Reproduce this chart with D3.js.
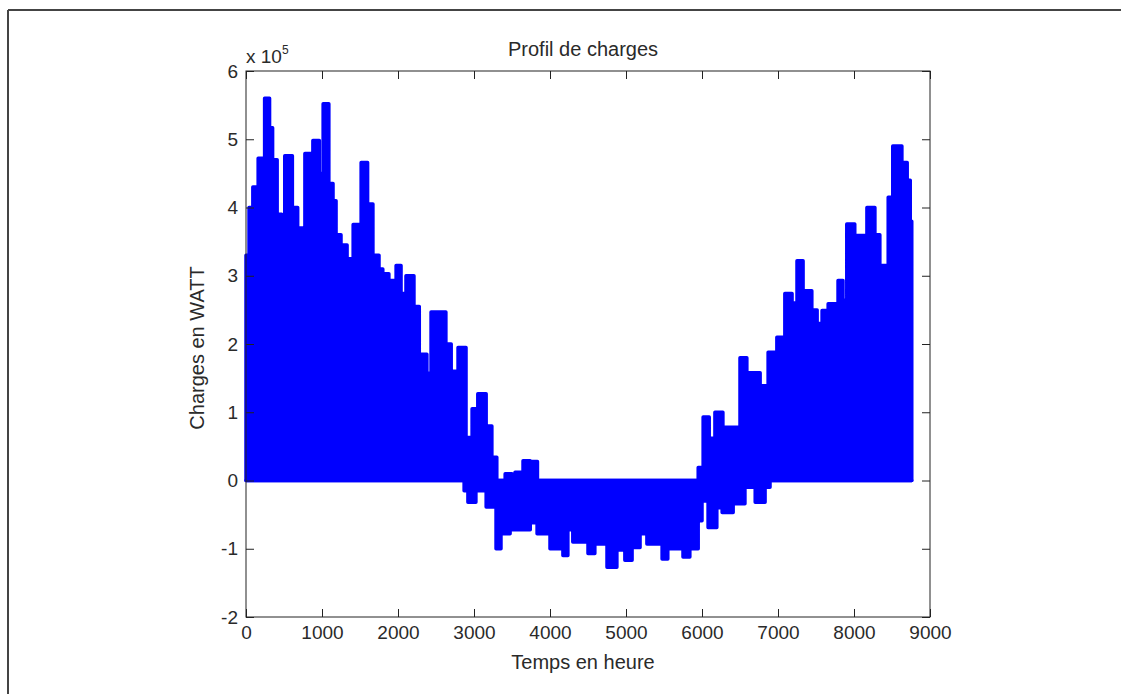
<!DOCTYPE html>
<html>
<head>
<meta charset="utf-8">
<script src="https://cdn.jsdelivr.net/npm/d3@7"></script>
<style>
  body { margin: 0; background: #fff; }
  text { font-family: "Liberation Sans", Arial, sans-serif; fill: #2a2a2a; }
</style>
</head>
<body>
<div id="chart"></div>
<script>
// envelope of the hourly load profile (units of 1e5 W), read off the figure as steps
// each value holds from its hour up to the next hour in the list
const upperHours = [0, 40, 90, 160, 245, 310, 350, 410, 470, 510, 610, 680, 750, 775, 855, 880, 965, 1015, 1090, 1145, 1185, 1250, 1330, 1410, 1515, 1600, 1670, 1750, 1800, 1880, 1975, 2040, 2105, 2210, 2280, 2380, 2435, 2630, 2700, 2790, 2895, 2975, 3050, 3160, 3235, 3300, 3410, 3500, 3540, 3630, 3645, 3740, 3765, 3835, 5950, 6015, 6095, 6170, 6275, 6500, 6590, 6765, 6870, 6985, 7090, 7185, 7250, 7330, 7445, 7515, 7580, 7660, 7790, 7855, 7905, 8010, 8170, 8275, 8340, 8450, 8510, 8630, 8700, 8740, 8760];
const upperVals  = [3.3, 4.0, 4.3, 4.72, 5.6, 5.17, 4.7, 3.9, 3.47, 4.76, 4.0, 3.7, 3.3, 4.79, 4.5, 4.98, 4.5, 5.52, 4.35, 4.1, 3.6, 3.45, 3.25, 3.75, 4.66, 4.05, 3.3, 3.1, 3.03, 2.93, 3.15, 2.74, 3.0, 2.55, 1.85, 1.57, 2.47, 2.0, 1.6, 1.95, 0.63, 1.05, 1.27, 0.8, 0.34, 0, 0.1, 0, 0.12, 0, 0.29, 0.12, 0.28, 0, 0.19, 0.93, 0.62, 1.0, 0.78, 1.8, 1.58, 1.39, 1.88, 2.1, 2.74, 2.6, 3.22, 2.78, 2.5, 2.3, 2.49, 2.59, 2.93, 2.64, 3.76, 3.59, 4.0, 3.6, 3.15, 4.15, 4.9, 4.66, 4.4, 3.8, 3.8];

const lowerHours = [0, 2870, 2920, 3025, 3160, 3290, 3355, 3475, 3740, 3830, 4000, 4170, 4235, 4300, 4500, 4590, 4750, 4880, 4985, 5080, 5185, 5275, 5475, 5550, 5750, 5840, 5950, 6000, 6080, 6195, 6265, 6410, 6565, 6700, 6830, 6895, 8760];
const lowerVals  = [0, -0.15, -0.32, -0.15, -0.39, -1.0, -0.78, -0.72, -0.62, -0.78, -1.0, -1.1, -0.72, -0.9, -1.07, -0.93, -1.27, -1.02, -1.17, -0.98, -0.78, -0.93, -1.15, -1.0, -1.12, -1.0, -0.59, -0.3, -0.69, -0.4, -0.47, -0.34, -0.1, -0.32, -0.1, 0, 0];

const xTicks = [0, 1000, 2000, 3000, 4000, 5000, 6000, 7000, 8000, 9000];
const yTicks = [-2, -1, 0, 1, 2, 3, 4, 5, 6];

const W = 1121, H = 694;
const box = {left: 246, right: 930, top: 71, bottom: 617};

let svg = d3.select("#chart").append("svg")
    .attr("width", W)
    .attr("height", H);

// frame of the scanned figure (only top and left edges show)
svg.append("line").attr("x1", 8).attr("y1", 10).attr("x2", W).attr("y2", 10)
    .style("stroke", "#444").style("stroke-width", 2);
svg.append("line").attr("x1", 8).attr("y1", 10).attr("x2", 8).attr("y2", H)
    .style("stroke", "#444").style("stroke-width", 2);

let x = d3.scaleLinear().domain([0, 9000]).range([box.left, box.right]);
let y = d3.scaleLinear().domain([-2, 6]).range([box.bottom, box.top]);

let upper = upperHours.map((h, i) => [h, upperVals[i]]);
let lower = lowerHours.map((h, i) => [h, lowerVals[i]]);

let plot = svg.append("g").attr("id", "plot");

let area = d3.area()
    .x(d => x(d[0]))
    .y0(y(0))
    .y1(d => y(d[1]))
    .curve(d3.curveStepAfter);

[upper, lower].forEach(function(series){
    plot.append("path").datum(series)
        .attr("d", area)
        .style("fill", "#0000ff")
        .style("stroke", "#0000ff")
        .style("stroke-width", 3.5)
        .style("stroke-linejoin", "round");
});

// axes, matlab style: ticks inside on all four sides
let fmt = d => String(d);
let xAxis = d3.axisBottom(x).tickValues(xTicks).tickFormat(fmt).tickSizeInner(-8).tickSizeOuter(0).tickPadding(9);
let yAxis = d3.axisLeft(y).tickValues(yTicks).tickFormat(fmt).tickSizeInner(-8).tickSizeOuter(0).tickPadding(8);

let gx = svg.append("g").attr("transform", "translate(0," + box.bottom + ")").call(xAxis);
let gy = svg.append("g").attr("transform", "translate(" + box.left + ",0)").call(yAxis);
svg.append("g").attr("transform", "translate(0," + box.top + ")")
    .call(d3.axisTop(x).tickValues(xTicks).tickSizeInner(-8).tickSizeOuter(0).tickFormat(""));
svg.append("g").attr("transform", "translate(" + box.right + ",0)")
    .call(d3.axisRight(y).tickValues(yTicks).tickSizeInner(-8).tickSizeOuter(0).tickFormat(""));

svg.selectAll(".domain").remove();
svg.selectAll(".tick line").style("stroke", "#222");
svg.selectAll(".tick text")
    .style("font-size", "19px")
    .style("font-family", "Liberation Sans, Arial, sans-serif")
    .style("fill", "#2a2a2a");

svg.append("rect")
    .attr("x", box.left).attr("y", box.top)
    .attr("width", box.right - box.left).attr("height", box.bottom - box.top)
    .style("fill", "none").style("stroke", "#222").style("stroke-width", 1);

// exponent label
let expo = svg.append("text").attr("x", 246).attr("y", 63).style("font-size", "19px");
expo.append("tspan").text("x 10");
expo.append("tspan").attr("dy", -9).style("font-size", "12px").text("5");

svg.append("text")
    .attr("x", 583).attr("y", 56)
    .style("font-size", "20px")
    .style("text-anchor", "middle")
    .text("Profil de charges");

svg.append("text")
    .attr("x", 583).attr("y", 669)
    .style("font-size", "20px")
    .style("text-anchor", "middle")
    .text("Temps en heure");

svg.append("text")
    .attr("transform", "translate(204,348) rotate(-90)")
    .style("font-size", "20px")
    .style("text-anchor", "middle")
    .text("Charges en WATT");
</script>
</body>
</html>
